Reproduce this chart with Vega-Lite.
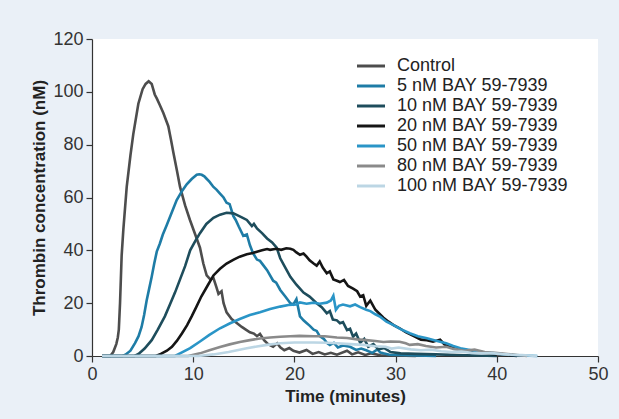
{
"$schema": "https://vega.github.io/schema/vega-lite/v6.json",
"width": 506, "height": 317,
"autosize": {"type": "none"},
"padding": {"left": 92, "top": 39, "right": 21, "bottom": 63},
"background": "#eaf0f7",
"config": {
  "view": {"fill": "white", "stroke": null},
  "font": "Liberation Sans",
  "axis": {"grid": false, "domainColor": "#333", "tickColor": "#333", "tickSize": 6, "labelFontSize": 18, "labelColor": "#333", "titleFontSize": 17, "titleFontWeight": "bold", "titleColor": "#222", "labelPadding": 3, "domainWidth": 1.2, "tickWidth": 1.2}
},
"data": {"values": [
{"s":"Control","t":1,"c":0},{"s":"Control","t":1.8,"c":0},{"s":"Control","t":2.1,"c":1.5},{"s":"Control","t":2.4,"c":4.5},{"s":"Control","t":2.55,"c":7},{"s":"Control","t":2.65,"c":10},{"s":"Control","t":2.77,"c":20},{"s":"Control","t":2.93,"c":38},{"s":"Control","t":3.1,"c":48},{"s":"Control","t":3.43,"c":64},{"s":"Control","t":3.8,"c":76},{"s":"Control","t":4.08,"c":84},{"s":"Control","t":4.58,"c":95.5},{"s":"Control","t":5.0,"c":101},{"s":"Control","t":5.3,"c":103},{"s":"Control","t":5.6,"c":104},{"s":"Control","t":5.9,"c":103},{"s":"Control","t":6.2,"c":99},{"s":"Control","t":6.4,"c":97.5},{"s":"Control","t":6.7,"c":95},{"s":"Control","t":7.05,"c":92},{"s":"Control","t":7.54,"c":87},{"s":"Control","t":7.8,"c":82},{"s":"Control","t":8.04,"c":77},{"s":"Control","t":8.4,"c":70},{"s":"Control","t":8.7,"c":64},{"s":"Control","t":9.2,"c":57},{"s":"Control","t":9.68,"c":51.5},{"s":"Control","t":10.2,"c":46},{"s":"Control","t":10.67,"c":41},{"s":"Control","t":11.0,"c":35},{"s":"Control","t":11.33,"c":30.5},{"s":"Control","t":11.7,"c":29},{"s":"Control","t":12.0,"c":29.5},{"s":"Control","t":12.3,"c":26},{"s":"Control","t":12.5,"c":23.5},{"s":"Control","t":12.8,"c":24.5},{"s":"Control","t":13.0,"c":20},{"s":"Control","t":13.3,"c":16.5},{"s":"Control","t":13.8,"c":14},{"s":"Control","t":14.3,"c":12.5},{"s":"Control","t":14.8,"c":11},{"s":"Control","t":15.2,"c":10},{"s":"Control","t":15.6,"c":9},{"s":"Control","t":16.0,"c":8.5},{"s":"Control","t":16.3,"c":7.5},{"s":"Control","t":16.6,"c":8.4},{"s":"Control","t":17.0,"c":6},{"s":"Control","t":17.4,"c":4.5},{"s":"Control","t":17.9,"c":3.5},{"s":"Control","t":18.3,"c":4.8},{"s":"Control","t":18.6,"c":3.3},{"s":"Control","t":19.0,"c":2.2},{"s":"Control","t":19.5,"c":3.0},{"s":"Control","t":19.9,"c":2.0},{"s":"Control","t":20.5,"c":1.3},{"s":"Control","t":21.2,"c":2.3},{"s":"Control","t":21.8,"c":0.8},{"s":"Control","t":22.4,"c":1.5},{"s":"Control","t":23.0,"c":0.6},{"s":"Control","t":23.6,"c":1.2},{"s":"Control","t":24.2,"c":0.5},{"s":"Control","t":25.2,"c":2.0},{"s":"Control","t":25.7,"c":0.6},{"s":"Control","t":26.3,"c":1.4},{"s":"Control","t":27.0,"c":0.4},{"s":"Control","t":27.6,"c":1.0},{"s":"Control","t":28.5,"c":0.3},{"s":"Control","t":30,"c":0.2},{"s":"Control","t":32,"c":0},
{"s":"5 nM BAY 59-7939","t":1,"c":0},{"s":"5 nM BAY 59-7939","t":3.0,"c":0},{"s":"5 nM BAY 59-7939","t":3.3,"c":0.5},{"s":"5 nM BAY 59-7939","t":3.8,"c":2},{"s":"5 nM BAY 59-7939","t":4.25,"c":4.9},{"s":"5 nM BAY 59-7939","t":4.6,"c":7.5},{"s":"5 nM BAY 59-7939","t":4.9,"c":11},{"s":"5 nM BAY 59-7939","t":5.15,"c":15.5},{"s":"5 nM BAY 59-7939","t":5.4,"c":21},{"s":"5 nM BAY 59-7939","t":5.65,"c":25.5},{"s":"5 nM BAY 59-7939","t":5.9,"c":30},{"s":"5 nM BAY 59-7939","t":6.15,"c":35},{"s":"5 nM BAY 59-7939","t":6.4,"c":39.5},{"s":"5 nM BAY 59-7939","t":6.7,"c":42.5},{"s":"5 nM BAY 59-7939","t":7.0,"c":46},{"s":"5 nM BAY 59-7939","t":7.38,"c":49.5},{"s":"5 nM BAY 59-7939","t":7.9,"c":54.5},{"s":"5 nM BAY 59-7939","t":8.37,"c":59},{"s":"5 nM BAY 59-7939","t":8.9,"c":62.5},{"s":"5 nM BAY 59-7939","t":9.36,"c":65},{"s":"5 nM BAY 59-7939","t":9.85,"c":67},{"s":"5 nM BAY 59-7939","t":10.35,"c":68.6},{"s":"5 nM BAY 59-7939","t":10.6,"c":68.8},{"s":"5 nM BAY 59-7939","t":10.84,"c":68.6},{"s":"5 nM BAY 59-7939","t":11.1,"c":68},{"s":"5 nM BAY 59-7939","t":11.3,"c":67.2},{"s":"5 nM BAY 59-7939","t":11.6,"c":66},{"s":"5 nM BAY 59-7939","t":12.0,"c":64},{"s":"5 nM BAY 59-7939","t":12.3,"c":63},{"s":"5 nM BAY 59-7939","t":12.65,"c":61.5},{"s":"5 nM BAY 59-7939","t":13.0,"c":60},{"s":"5 nM BAY 59-7939","t":13.3,"c":58},{"s":"5 nM BAY 59-7939","t":13.6,"c":57.5},{"s":"5 nM BAY 59-7939","t":13.96,"c":53},{"s":"5 nM BAY 59-7939","t":14.2,"c":51.5},{"s":"5 nM BAY 59-7939","t":14.5,"c":49},{"s":"5 nM BAY 59-7939","t":14.95,"c":45.5},{"s":"5 nM BAY 59-7939","t":15.3,"c":46},{"s":"5 nM BAY 59-7939","t":15.6,"c":42},{"s":"5 nM BAY 59-7939","t":15.9,"c":39},{"s":"5 nM BAY 59-7939","t":16.3,"c":36.5},{"s":"5 nM BAY 59-7939","t":16.6,"c":36},{"s":"5 nM BAY 59-7939","t":16.9,"c":34.5},{"s":"5 nM BAY 59-7939","t":17.3,"c":32.5},{"s":"5 nM BAY 59-7939","t":17.9,"c":28.5},{"s":"5 nM BAY 59-7939","t":18.2,"c":27.8},{"s":"5 nM BAY 59-7939","t":18.6,"c":25},{"s":"5 nM BAY 59-7939","t":19.1,"c":22.5},{"s":"5 nM BAY 59-7939","t":19.6,"c":20},{"s":"5 nM BAY 59-7939","t":19.9,"c":19.5},{"s":"5 nM BAY 59-7939","t":20.2,"c":21.5},{"s":"5 nM BAY 59-7939","t":20.55,"c":15},{"s":"5 nM BAY 59-7939","t":20.9,"c":13.5},{"s":"5 nM BAY 59-7939","t":21.2,"c":12.5},{"s":"5 nM BAY 59-7939","t":21.5,"c":11.5},{"s":"5 nM BAY 59-7939","t":21.9,"c":10},{"s":"5 nM BAY 59-7939","t":22.2,"c":9.5},{"s":"5 nM BAY 59-7939","t":22.5,"c":7.5},{"s":"5 nM BAY 59-7939","t":22.9,"c":6.5},{"s":"5 nM BAY 59-7939","t":23.2,"c":5},{"s":"5 nM BAY 59-7939","t":23.5,"c":4.2},{"s":"5 nM BAY 59-7939","t":23.9,"c":5},{"s":"5 nM BAY 59-7939","t":24.3,"c":3.2},{"s":"5 nM BAY 59-7939","t":24.8,"c":4},{"s":"5 nM BAY 59-7939","t":25.5,"c":3.5},{"s":"5 nM BAY 59-7939","t":26.1,"c":2.3},{"s":"5 nM BAY 59-7939","t":26.6,"c":2.8},{"s":"5 nM BAY 59-7939","t":27.1,"c":2.2},{"s":"5 nM BAY 59-7939","t":27.7,"c":1.2},{"s":"5 nM BAY 59-7939","t":28.2,"c":2.5},{"s":"5 nM BAY 59-7939","t":28.5,"c":1.3},{"s":"5 nM BAY 59-7939","t":28.8,"c":1.0},{"s":"5 nM BAY 59-7939","t":29.4,"c":0.5},{"s":"5 nM BAY 59-7939","t":30.5,"c":0.4},{"s":"5 nM BAY 59-7939","t":32,"c":0.2},{"s":"5 nM BAY 59-7939","t":34,"c":0},
{"s":"10 nM BAY 59-7939","t":1,"c":0},{"s":"10 nM BAY 59-7939","t":4.2,"c":0},{"s":"10 nM BAY 59-7939","t":4.6,"c":0.8},{"s":"10 nM BAY 59-7939","t":5.2,"c":2.8},{"s":"10 nM BAY 59-7939","t":5.9,"c":6},{"s":"10 nM BAY 59-7939","t":6.5,"c":10},{"s":"10 nM BAY 59-7939","t":7.2,"c":15},{"s":"10 nM BAY 59-7939","t":7.7,"c":19.5},{"s":"10 nM BAY 59-7939","t":8.2,"c":24},{"s":"10 nM BAY 59-7939","t":8.7,"c":29},{"s":"10 nM BAY 59-7939","t":9.2,"c":34},{"s":"10 nM BAY 59-7939","t":9.7,"c":40},{"s":"10 nM BAY 59-7939","t":10.2,"c":43.5},{"s":"10 nM BAY 59-7939","t":10.67,"c":46.5},{"s":"10 nM BAY 59-7939","t":11.3,"c":50},{"s":"10 nM BAY 59-7939","t":12.0,"c":52.3},{"s":"10 nM BAY 59-7939","t":12.65,"c":53.5},{"s":"10 nM BAY 59-7939","t":13.3,"c":54.2},{"s":"10 nM BAY 59-7939","t":13.96,"c":54},{"s":"10 nM BAY 59-7939","t":14.3,"c":53.4},{"s":"10 nM BAY 59-7939","t":14.8,"c":52.5},{"s":"10 nM BAY 59-7939","t":15.3,"c":51.5},{"s":"10 nM BAY 59-7939","t":15.8,"c":49.2},{"s":"10 nM BAY 59-7939","t":16.0,"c":50},{"s":"10 nM BAY 59-7939","t":16.3,"c":48.3},{"s":"10 nM BAY 59-7939","t":16.8,"c":46.5},{"s":"10 nM BAY 59-7939","t":17.3,"c":44.5},{"s":"10 nM BAY 59-7939","t":17.8,"c":43},{"s":"10 nM BAY 59-7939","t":18.25,"c":41},{"s":"10 nM BAY 59-7939","t":18.6,"c":37},{"s":"10 nM BAY 59-7939","t":19.1,"c":33.5},{"s":"10 nM BAY 59-7939","t":19.6,"c":30},{"s":"10 nM BAY 59-7939","t":20.2,"c":27},{"s":"10 nM BAY 59-7939","t":20.9,"c":24},{"s":"10 nM BAY 59-7939","t":21.5,"c":22.5},{"s":"10 nM BAY 59-7939","t":22.2,"c":20},{"s":"10 nM BAY 59-7939","t":22.7,"c":18.5},{"s":"10 nM BAY 59-7939","t":23.2,"c":16.2},{"s":"10 nM BAY 59-7939","t":23.5,"c":17},{"s":"10 nM BAY 59-7939","t":23.8,"c":13.8},{"s":"10 nM BAY 59-7939","t":24.2,"c":13.5},{"s":"10 nM BAY 59-7939","t":24.5,"c":12.4},{"s":"10 nM BAY 59-7939","t":24.8,"c":12.8},{"s":"10 nM BAY 59-7939","t":25.2,"c":9.8},{"s":"10 nM BAY 59-7939","t":25.5,"c":10.3},{"s":"10 nM BAY 59-7939","t":25.8,"c":7.3},{"s":"10 nM BAY 59-7939","t":26.1,"c":8.5},{"s":"10 nM BAY 59-7939","t":26.5,"c":5},{"s":"10 nM BAY 59-7939","t":26.9,"c":6.5},{"s":"10 nM BAY 59-7939","t":27.3,"c":3.5},{"s":"10 nM BAY 59-7939","t":27.8,"c":4.5},{"s":"10 nM BAY 59-7939","t":28.3,"c":2.5},{"s":"10 nM BAY 59-7939","t":28.9,"c":3},{"s":"10 nM BAY 59-7939","t":29.5,"c":1.5},{"s":"10 nM BAY 59-7939","t":30.5,"c":1.0},{"s":"10 nM BAY 59-7939","t":32,"c":0.8},{"s":"10 nM BAY 59-7939","t":34,"c":0.6},{"s":"10 nM BAY 59-7939","t":36,"c":0.4},{"s":"10 nM BAY 59-7939","t":38,"c":0.2},{"s":"10 nM BAY 59-7939","t":40,"c":0},
{"s":"20 nM BAY 59-7939","t":1,"c":0},{"s":"20 nM BAY 59-7939","t":6.3,"c":0},{"s":"20 nM BAY 59-7939","t":6.8,"c":0.8},{"s":"20 nM BAY 59-7939","t":7.4,"c":2},{"s":"20 nM BAY 59-7939","t":7.9,"c":3.5},{"s":"20 nM BAY 59-7939","t":8.4,"c":5.8},{"s":"20 nM BAY 59-7939","t":8.9,"c":8.6},{"s":"20 nM BAY 59-7939","t":9.4,"c":11.7},{"s":"20 nM BAY 59-7939","t":9.85,"c":15},{"s":"20 nM BAY 59-7939","t":10.3,"c":18.5},{"s":"20 nM BAY 59-7939","t":10.8,"c":22.5},{"s":"20 nM BAY 59-7939","t":11.4,"c":26.5},{"s":"20 nM BAY 59-7939","t":12.0,"c":30.5},{"s":"20 nM BAY 59-7939","t":12.65,"c":33},{"s":"20 nM BAY 59-7939","t":13.3,"c":35},{"s":"20 nM BAY 59-7939","t":14.0,"c":36.5},{"s":"20 nM BAY 59-7939","t":14.6,"c":37.6},{"s":"20 nM BAY 59-7939","t":15.3,"c":38.5},{"s":"20 nM BAY 59-7939","t":15.9,"c":39},{"s":"20 nM BAY 59-7939","t":16.3,"c":39.5},{"s":"20 nM BAY 59-7939","t":16.8,"c":40},{"s":"20 nM BAY 59-7939","t":17.3,"c":40.5},{"s":"20 nM BAY 59-7939","t":17.6,"c":40.2},{"s":"20 nM BAY 59-7939","t":18.2,"c":40.6},{"s":"20 nM BAY 59-7939","t":18.7,"c":40.2},{"s":"20 nM BAY 59-7939","t":19.2,"c":40.8},{"s":"20 nM BAY 59-7939","t":19.6,"c":40.6},{"s":"20 nM BAY 59-7939","t":19.9,"c":40.2},{"s":"20 nM BAY 59-7939","t":20.2,"c":39.2},{"s":"20 nM BAY 59-7939","t":20.55,"c":38.3},{"s":"20 nM BAY 59-7939","t":20.9,"c":38.8},{"s":"20 nM BAY 59-7939","t":21.2,"c":37.6},{"s":"20 nM BAY 59-7939","t":21.5,"c":36.2},{"s":"20 nM BAY 59-7939","t":21.9,"c":35},{"s":"20 nM BAY 59-7939","t":22.2,"c":34.2},{"s":"20 nM BAY 59-7939","t":22.5,"c":35.8},{"s":"20 nM BAY 59-7939","t":22.8,"c":33.5},{"s":"20 nM BAY 59-7939","t":23.2,"c":31.3},{"s":"20 nM BAY 59-7939","t":23.5,"c":32},{"s":"20 nM BAY 59-7939","t":23.85,"c":29},{"s":"20 nM BAY 59-7939","t":24.2,"c":28.5},{"s":"20 nM BAY 59-7939","t":24.5,"c":28},{"s":"20 nM BAY 59-7939","t":24.9,"c":28.8},{"s":"20 nM BAY 59-7939","t":25.3,"c":26.5},{"s":"20 nM BAY 59-7939","t":25.8,"c":25.5},{"s":"20 nM BAY 59-7939","t":26.2,"c":24.5},{"s":"20 nM BAY 59-7939","t":26.5,"c":22.5},{"s":"20 nM BAY 59-7939","t":26.8,"c":23},{"s":"20 nM BAY 59-7939","t":27.1,"c":19},{"s":"20 nM BAY 59-7939","t":27.5,"c":21},{"s":"20 nM BAY 59-7939","t":28.0,"c":17.5},{"s":"20 nM BAY 59-7939","t":28.4,"c":16},{"s":"20 nM BAY 59-7939","t":28.8,"c":14.5},{"s":"20 nM BAY 59-7939","t":29.3,"c":13},{"s":"20 nM BAY 59-7939","t":29.8,"c":11.7},{"s":"20 nM BAY 59-7939","t":30.4,"c":10.5},{"s":"20 nM BAY 59-7939","t":31.0,"c":9},{"s":"20 nM BAY 59-7939","t":31.8,"c":7.5},{"s":"20 nM BAY 59-7939","t":32.5,"c":6.2},{"s":"20 nM BAY 59-7939","t":33.1,"c":6},{"s":"20 nM BAY 59-7939","t":33.7,"c":5.4},{"s":"20 nM BAY 59-7939","t":34.4,"c":6.2},{"s":"20 nM BAY 59-7939","t":34.8,"c":4.5},{"s":"20 nM BAY 59-7939","t":35.3,"c":3.5},{"s":"20 nM BAY 59-7939","t":35.7,"c":3.2},{"s":"20 nM BAY 59-7939","t":36.4,"c":2.5},{"s":"20 nM BAY 59-7939","t":37.2,"c":1.8},{"s":"20 nM BAY 59-7939","t":38.3,"c":1.3},{"s":"20 nM BAY 59-7939","t":39.5,"c":0.8},{"s":"20 nM BAY 59-7939","t":41,"c":0.3},{"s":"20 nM BAY 59-7939","t":42,"c":0},
{"s":"50 nM BAY 59-7939","t":1,"c":0},{"s":"50 nM BAY 59-7939","t":8.2,"c":0},{"s":"50 nM BAY 59-7939","t":8.7,"c":1},{"s":"50 nM BAY 59-7939","t":9.7,"c":3},{"s":"50 nM BAY 59-7939","t":10.67,"c":5.5},{"s":"50 nM BAY 59-7939","t":11.6,"c":8},{"s":"50 nM BAY 59-7939","t":12.65,"c":10.5},{"s":"50 nM BAY 59-7939","t":13.6,"c":12.3},{"s":"50 nM BAY 59-7939","t":14.6,"c":14},{"s":"50 nM BAY 59-7939","t":15.6,"c":15.5},{"s":"50 nM BAY 59-7939","t":16.6,"c":16.6},{"s":"50 nM BAY 59-7939","t":17.6,"c":17.8},{"s":"50 nM BAY 59-7939","t":18.6,"c":18.7},{"s":"50 nM BAY 59-7939","t":19.4,"c":19.3},{"s":"50 nM BAY 59-7939","t":20.2,"c":19.5},{"s":"50 nM BAY 59-7939","t":20.55,"c":20.3},{"s":"50 nM BAY 59-7939","t":21.2,"c":19.8},{"s":"50 nM BAY 59-7939","t":21.9,"c":20.2},{"s":"50 nM BAY 59-7939","t":22.5,"c":19.8},{"s":"50 nM BAY 59-7939","t":23.2,"c":20.2},{"s":"50 nM BAY 59-7939","t":23.6,"c":21},{"s":"50 nM BAY 59-7939","t":23.85,"c":22.8},{"s":"50 nM BAY 59-7939","t":24.1,"c":17.5},{"s":"50 nM BAY 59-7939","t":24.4,"c":19},{"s":"50 nM BAY 59-7939","t":24.8,"c":19.5},{"s":"50 nM BAY 59-7939","t":25.5,"c":18.8},{"s":"50 nM BAY 59-7939","t":26.0,"c":19.5},{"s":"50 nM BAY 59-7939","t":26.5,"c":18.5},{"s":"50 nM BAY 59-7939","t":27.1,"c":17.5},{"s":"50 nM BAY 59-7939","t":27.5,"c":17},{"s":"50 nM BAY 59-7939","t":28.0,"c":15.8},{"s":"50 nM BAY 59-7939","t":28.5,"c":14.8},{"s":"50 nM BAY 59-7939","t":29.1,"c":13},{"s":"50 nM BAY 59-7939","t":29.8,"c":11.7},{"s":"50 nM BAY 59-7939","t":30.5,"c":10.2},{"s":"50 nM BAY 59-7939","t":31.4,"c":8.6},{"s":"50 nM BAY 59-7939","t":32.2,"c":7.5},{"s":"50 nM BAY 59-7939","t":33.1,"c":6.7},{"s":"50 nM BAY 59-7939","t":34.0,"c":5.8},{"s":"50 nM BAY 59-7939","t":35.0,"c":4.8},{"s":"50 nM BAY 59-7939","t":35.7,"c":3.8},{"s":"50 nM BAY 59-7939","t":36.4,"c":2.9},{"s":"50 nM BAY 59-7939","t":37.5,"c":2.2},{"s":"50 nM BAY 59-7939","t":38.5,"c":1.5},{"s":"50 nM BAY 59-7939","t":39.8,"c":1.0},{"s":"50 nM BAY 59-7939","t":41,"c":0.5},{"s":"50 nM BAY 59-7939","t":42.5,"c":0.2},{"s":"50 nM BAY 59-7939","t":44,"c":0},
{"s":"80 nM BAY 59-7939","t":1,"c":0},{"s":"80 nM BAY 59-7939","t":9.5,"c":0},{"s":"80 nM BAY 59-7939","t":10.67,"c":1},{"s":"80 nM BAY 59-7939","t":11.6,"c":2.2},{"s":"80 nM BAY 59-7939","t":12.65,"c":3.4},{"s":"80 nM BAY 59-7939","t":13.6,"c":4.4},{"s":"80 nM BAY 59-7939","t":14.6,"c":5.3},{"s":"80 nM BAY 59-7939","t":15.6,"c":6},{"s":"80 nM BAY 59-7939","t":16.6,"c":6.6},{"s":"80 nM BAY 59-7939","t":17.6,"c":7.0},{"s":"80 nM BAY 59-7939","t":18.6,"c":7.3},{"s":"80 nM BAY 59-7939","t":19.6,"c":7.5},{"s":"80 nM BAY 59-7939","t":20.5,"c":7.6},{"s":"80 nM BAY 59-7939","t":21.9,"c":7.5},{"s":"80 nM BAY 59-7939","t":23.0,"c":7.5},{"s":"80 nM BAY 59-7939","t":24.2,"c":7.0},{"s":"80 nM BAY 59-7939","t":25.2,"c":6.8},{"s":"80 nM BAY 59-7939","t":26.2,"c":6.3},{"s":"80 nM BAY 59-7939","t":27.1,"c":6.0},{"s":"80 nM BAY 59-7939","t":28.0,"c":5.7},{"s":"80 nM BAY 59-7939","t":28.8,"c":5.3},{"s":"80 nM BAY 59-7939","t":29.5,"c":5.5},{"s":"80 nM BAY 59-7939","t":30.4,"c":5.4},{"s":"80 nM BAY 59-7939","t":31.0,"c":4.8},{"s":"80 nM BAY 59-7939","t":31.4,"c":4.2},{"s":"80 nM BAY 59-7939","t":32.2,"c":4.5},{"s":"80 nM BAY 59-7939","t":33,"c":3.8},{"s":"80 nM BAY 59-7939","t":34,"c":3.2},{"s":"80 nM BAY 59-7939","t":35,"c":3.5},{"s":"80 nM BAY 59-7939","t":35.8,"c":2.6},{"s":"80 nM BAY 59-7939","t":36.8,"c":2.0},{"s":"80 nM BAY 59-7939","t":37.8,"c":2.4},{"s":"80 nM BAY 59-7939","t":38.8,"c":1.5},{"s":"80 nM BAY 59-7939","t":39.8,"c":1.2},{"s":"80 nM BAY 59-7939","t":40.8,"c":0.8},{"s":"80 nM BAY 59-7939","t":42,"c":0.4},{"s":"80 nM BAY 59-7939","t":43,"c":0},
{"s":"100 nM BAY 59-7939","t":1,"c":0},{"s":"100 nM BAY 59-7939","t":10.5,"c":0},{"s":"100 nM BAY 59-7939","t":12,"c":0.6},{"s":"100 nM BAY 59-7939","t":13.5,"c":1.5},{"s":"100 nM BAY 59-7939","t":15.3,"c":2.9},{"s":"100 nM BAY 59-7939","t":16.3,"c":3.6},{"s":"100 nM BAY 59-7939","t":17.3,"c":4.2},{"s":"100 nM BAY 59-7939","t":18.6,"c":4.8},{"s":"100 nM BAY 59-7939","t":20,"c":5.1},{"s":"100 nM BAY 59-7939","t":21.9,"c":5.1},{"s":"100 nM BAY 59-7939","t":23.2,"c":5.0},{"s":"100 nM BAY 59-7939","t":24.2,"c":4.8},{"s":"100 nM BAY 59-7939","t":25.5,"c":4.5},{"s":"100 nM BAY 59-7939","t":26.8,"c":4.2},{"s":"100 nM BAY 59-7939","t":28,"c":3.7},{"s":"100 nM BAY 59-7939","t":29,"c":3.5},{"s":"100 nM BAY 59-7939","t":29.6,"c":2.8},{"s":"100 nM BAY 59-7939","t":30.3,"c":3.2},{"s":"100 nM BAY 59-7939","t":31.5,"c":2.5},{"s":"100 nM BAY 59-7939","t":32.5,"c":2.2},{"s":"100 nM BAY 59-7939","t":33.5,"c":2.4},{"s":"100 nM BAY 59-7939","t":34.5,"c":1.8},{"s":"100 nM BAY 59-7939","t":35.5,"c":1.5},{"s":"100 nM BAY 59-7939","t":36.5,"c":1.7},{"s":"100 nM BAY 59-7939","t":37.5,"c":1.2},{"s":"100 nM BAY 59-7939","t":38.5,"c":1.0},{"s":"100 nM BAY 59-7939","t":39.5,"c":1.1},{"s":"100 nM BAY 59-7939","t":40.5,"c":0.7},{"s":"100 nM BAY 59-7939","t":41.5,"c":0.5},{"s":"100 nM BAY 59-7939","t":42.5,"c":0.4},{"s":"100 nM BAY 59-7939","t":43.5,"c":0.1},{"s":"100 nM BAY 59-7939","t":44,"c":0}
]},
"mark": {"type": "line", "strokeWidth": 2.6},
"encoding": {
  "x": {"field": "t", "type": "quantitative", "scale": {"domain": [0, 50], "nice": false}, "axis": {"values": [0, 10, 20, 30, 40, 50], "title": "Time (minutes)", "labelFlush": false, "titlePadding": 5}},
  "y": {"field": "c", "type": "quantitative", "scale": {"domain": [0, 120], "nice": false}, "axis": {"values": [0, 20, 40, 60, 80, 100, 120], "title": "Thrombin concentration (nM)", "titlePadding": 4}},
  "color": {"field": "s", "type": "nominal",
    "scale": {"domain": ["Control", "5 nM BAY 59-7939", "10 nM BAY 59-7939", "20 nM BAY 59-7939", "50 nM BAY 59-7939", "80 nM BAY 59-7939", "100 nM BAY 59-7939"],
              "range": ["#4d4d4d", "#1e7ca6", "#1e4d5c", "#151515", "#2a95c7", "#8a8a8a", "#bcd6e4"]},
    "legend": {"title": null, "orient": "none", "legendX": 270, "legendY": 18, "padding": 0, "symbolType": "M-2,0H2", "symbolSize": 196, "symbolStrokeWidth": 3, "labelFontSize": 18, "labelColor": "#222", "labelOffset": 17, "rowPadding": 2, "labelLimit": 300}
  }
}
}
